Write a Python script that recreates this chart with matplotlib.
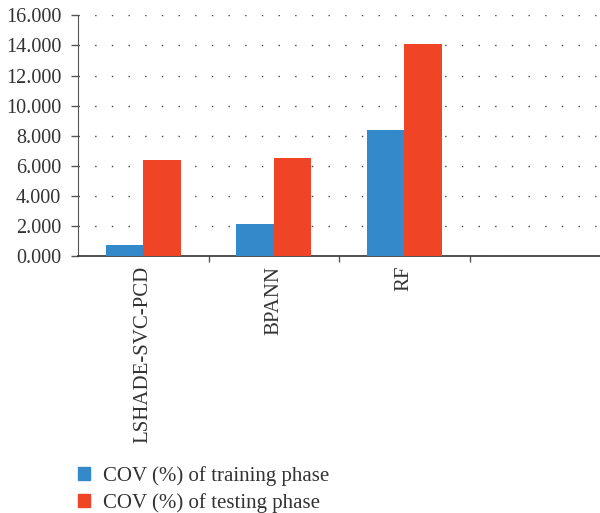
import matplotlib.pyplot as plt
from matplotlib.patches import Patch
from matplotlib.ticker import FixedLocator, FormatStrFormatter

plt.rcParams['font.family'] = ['Liberation Serif', 'DejaVu Serif']

models = ["LSHADE-SVC-PCD", "BPANN", "RF", ""]
cov_train = [0.73, 2.13, 8.38, 0]
cov_test = [6.38, 6.52, 14.10, 0]

blue = "#3389CA"
red = "#EF4426"
text_col = "#333333"

fig = plt.figure(figsize=(6.0, 5.13), dpi=100)
ax = fig.add_axes([0.13, 0.501, 0.87, 0.469])

w = 0.286
x = list(range(len(models)))
ax.bar([i - w / 2 for i in x], cov_train, width=w, color=blue, zorder=3)
ax.bar([i + w / 2 for i in x], cov_test, width=w, color=red, zorder=3)

ax.set_xlim(-0.5, len(models) - 0.5)
ax.set_ylim(0, 16)
ax.set_yticks([0, 2, 4, 6, 8, 10, 12, 14, 16])
ax.yaxis.set_major_formatter(FormatStrFormatter('%.3f'))

ax.set_xticks(x)
ax.set_xticklabels(models, rotation=90, fontsize=15, color=text_col)
ax.tick_params(axis='x', which='major', length=0, pad=7)
ax.xaxis.set_minor_locator(FixedLocator([0.5, 1.5, 2.5]))
ax.tick_params(axis='x', which='minor', length=4, width=1, color='#555555')
ax.tick_params(axis='y', labelsize=14.5, labelcolor=text_col, length=5,
               width=1, color='#555555', pad=7)

ax.grid(axis='y', linestyle=(0, (1, 11)), color='#444444', linewidth=1)
ax.set_axisbelow(True)

for s in ['top', 'right']:
    ax.spines[s].set_visible(False)
ax.spines['left'].set_color('#555555')
ax.spines['bottom'].set_color('#333333')
ax.spines['bottom'].set_linewidth(1.2)

handles = [Patch(color=blue, label="COV (%) of training phase"),
           Patch(color=red, label="COV (%) of testing phase")]
fig.legend(handles=handles, loc='upper left', bbox_to_anchor=(0.13, 0.092),
           frameon=False, fontsize=15, handlelength=0.58, handleheight=0.58,
           handletextpad=0.6, labelspacing=0.35, borderpad=0,
           borderaxespad=0, labelcolor=text_col)

fig.savefig("out.png", dpi=100)
